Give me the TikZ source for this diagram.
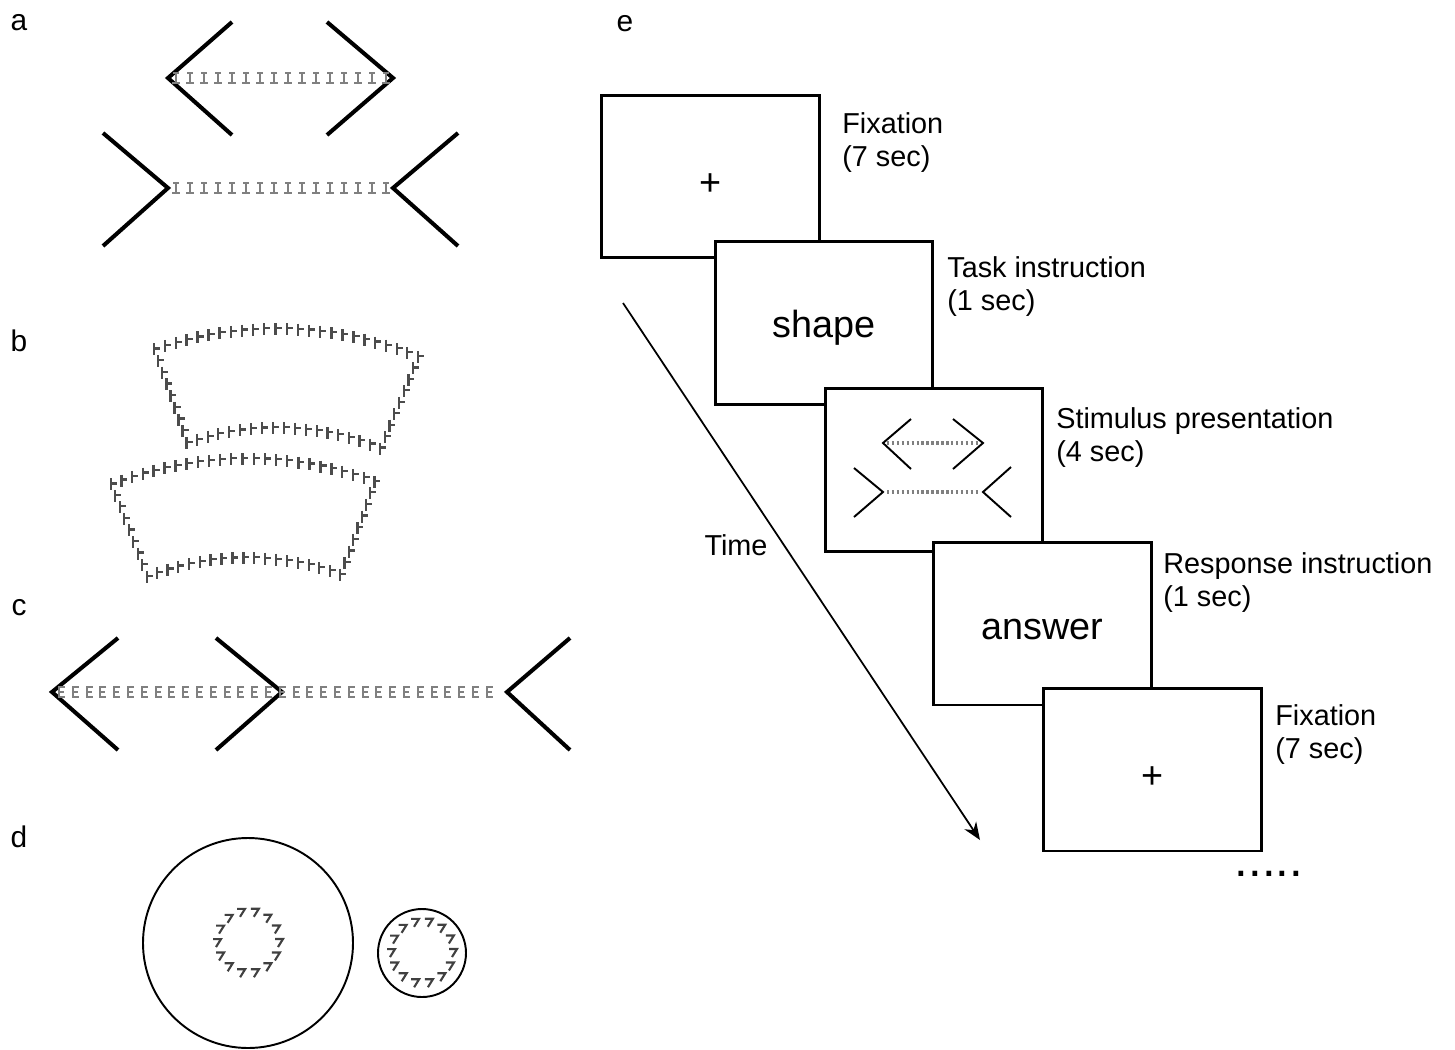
\documentclass[tikz,border=0pt]{standalone}
\usepackage{fontspec}
\setmainfont{Liberation Sans}
\usetikzlibrary{arrows.meta, calc, positioning}

\tikzset{
  arm/.style={line width=2.3pt},
  thinarm/.style={line width=1.1pt},
  glyph/.style={line width=1.1pt, draw=black!50},
  tglyph/.style={line width=1.3pt, draw=black!70},
  glyphdark/.style={line width=1.2pt, draw=black!75},
  screen/.style={rectangle, draw, line width=1.7pt, fill=white, minimum width=4.36cm,
                 minimum height=3.26cm, inner sep=0pt, text depth=0pt,
                 font=\fontsize{21.5}{24}\selectfont},
  lbl/.style={font=\fontsize{16.4}{18.7}\selectfont, align=left, inner sep=0pt, anchor=north west},
  panel/.style={font=\fontsize{17}{20}\selectfont, inner sep=0pt, anchor=base},
}

\begin{document}
\begin{tikzpicture}[x=0.02cm, y=-0.02cm]
  \useasboundingbox (0,0) rectangle (1455,1049);
%
  \node(pa)[panel] at (19,30) {a};
  \node(pb)[panel] at (19,351) {b};
  \node(pc)[panel] at (19,615) {c};
  \node(pd)[panel] at (19,847) {d};
  \node(pe)[panel] at (625,31) {e};
%
% a
\draw[arm](232,22)--(168,78)--(232,135);
\draw[arm](327,22)--(393,78)--(327,135);
\draw[arm](103,133)--(168,188)--(103,246);
\draw[arm](458,133)--(393,188)--(458,246);
\foreach \y in {78,188}
  \foreach \x in {176,190,...,386}
    \draw[glyph](\x-3,\y-5)--(\x+3,\y-5) (\x,\y-5)--(\x,\y+5) (\x-4,\y+5)--(\x+4,\y+5);
%
% b
\foreach \cx/\cy/\ao in {277/701/67.6, 247/831/69.8}{
  \begin{scope}[shift={(\cx,\cy)}]
    \foreach \i in {0,...,24}
      \draw[tglyph]({-(\ao+\i*1.729)}:372)++(-1,-6)--++(0,12)++(0,-7)--++(6,0);
    \foreach \i in {0,...,18}
      \draw[tglyph]({-(\ao+\i*2.306)}:273)++(-1,-6)--++(0,12)++(0,-7)--++(6,0);
    \foreach \i in {1,...,7}{
      \draw[tglyph]({-\ao}:{273+\i*12.4})++(-1,-6)--++(0,12)++(0,-7)--++(6,0);
      \draw[tglyph]({-(\ao+41.5)}:{273+\i*12.4})++(-1,-6)--++(0,12)++(0,-7)--++(6,0);
    }
  \end{scope}
}
%
% c
\draw[arm](118,638)--(52,692)--(118,750);
\draw[arm](216,638)--(282,692)--(216,750);
\draw[arm](570,638)--(507,692)--(570,750);
\foreach \x in {62,75.8,...,500}
  \draw[glyph](\x+3,687)--(\x-3,687)--(\x-3,697)--(\x+3,697) (\x-3,692)--(\x+2,692);
%
% d
\draw[thinarm](248,943) circle[radius=105];
\draw[thinarm](422,953) circle[radius=44];
\foreach \cx/\cy in {248/943, 422/953}{
  \begin{scope}[shift={(\cx,\cy)}]
    \foreach \a in {0,25.7,...,350}
      \draw[glyphdark](\a:31)++(-4,-4)--++(8,0)--++(-5,8);
  \end{scope}
}
%
% e
  \node(fix1)[screen,text height=22pt] at (710.5,176.5) {+};
  \node(task)[screen,text height=16pt] at (824,323) {shape};
  \node(stim)[screen] at (934,470) {};
  \node(resp)[screen,text height=18.5pt] at (1042.5,623.5) {answer};
  \node(fix2)[screen,text height=22pt] at (1152.5,769.5) {+};
%
\draw[thinarm](911,419)--(883,443)--(911,469);
\draw[thinarm](953,419)--(983,443)--(953,469);
\draw[thinarm](854,468)--(883,492)--(854,517);
\draw[thinarm](1011,467)--(983,492)--(1011,517);
\foreach \y in {443,492}
  \draw[gray, line width=2pt, dash pattern=on 1.4pt off 1.4pt](887,\y)--(979,\y);
%
  \node(lfix1)[lbl] at (842,112) {Fixation\\(7 sec)};
  \node(ltask)[lbl] at (947,256) {Task instruction\\(1 sec)};
  \node(lstim)[lbl] at (1056,407) {Stimulus presentation\\(4 sec)};
  \node(lresp)[lbl] at (1163,552) {Response instruction\\(1 sec)};
  \node(lfix2)[lbl] at (1275,704) {Fixation\\(7 sec)};
%
  \coordinate(tstart) at (623,303);
  \coordinate(tend) at (980,840);
\draw[-{Stealth[length=10pt,width=8pt]},line width=1pt](tstart)--(tend);
  \node(time)[font=\fontsize{16.4}{18}\selectfont] at (736,545) {Time};
  \node(more)[font=\fontsize{28}{30}\selectfont,anchor=base] at (1269,876) {.....};
\end{tikzpicture}
\end{document}
